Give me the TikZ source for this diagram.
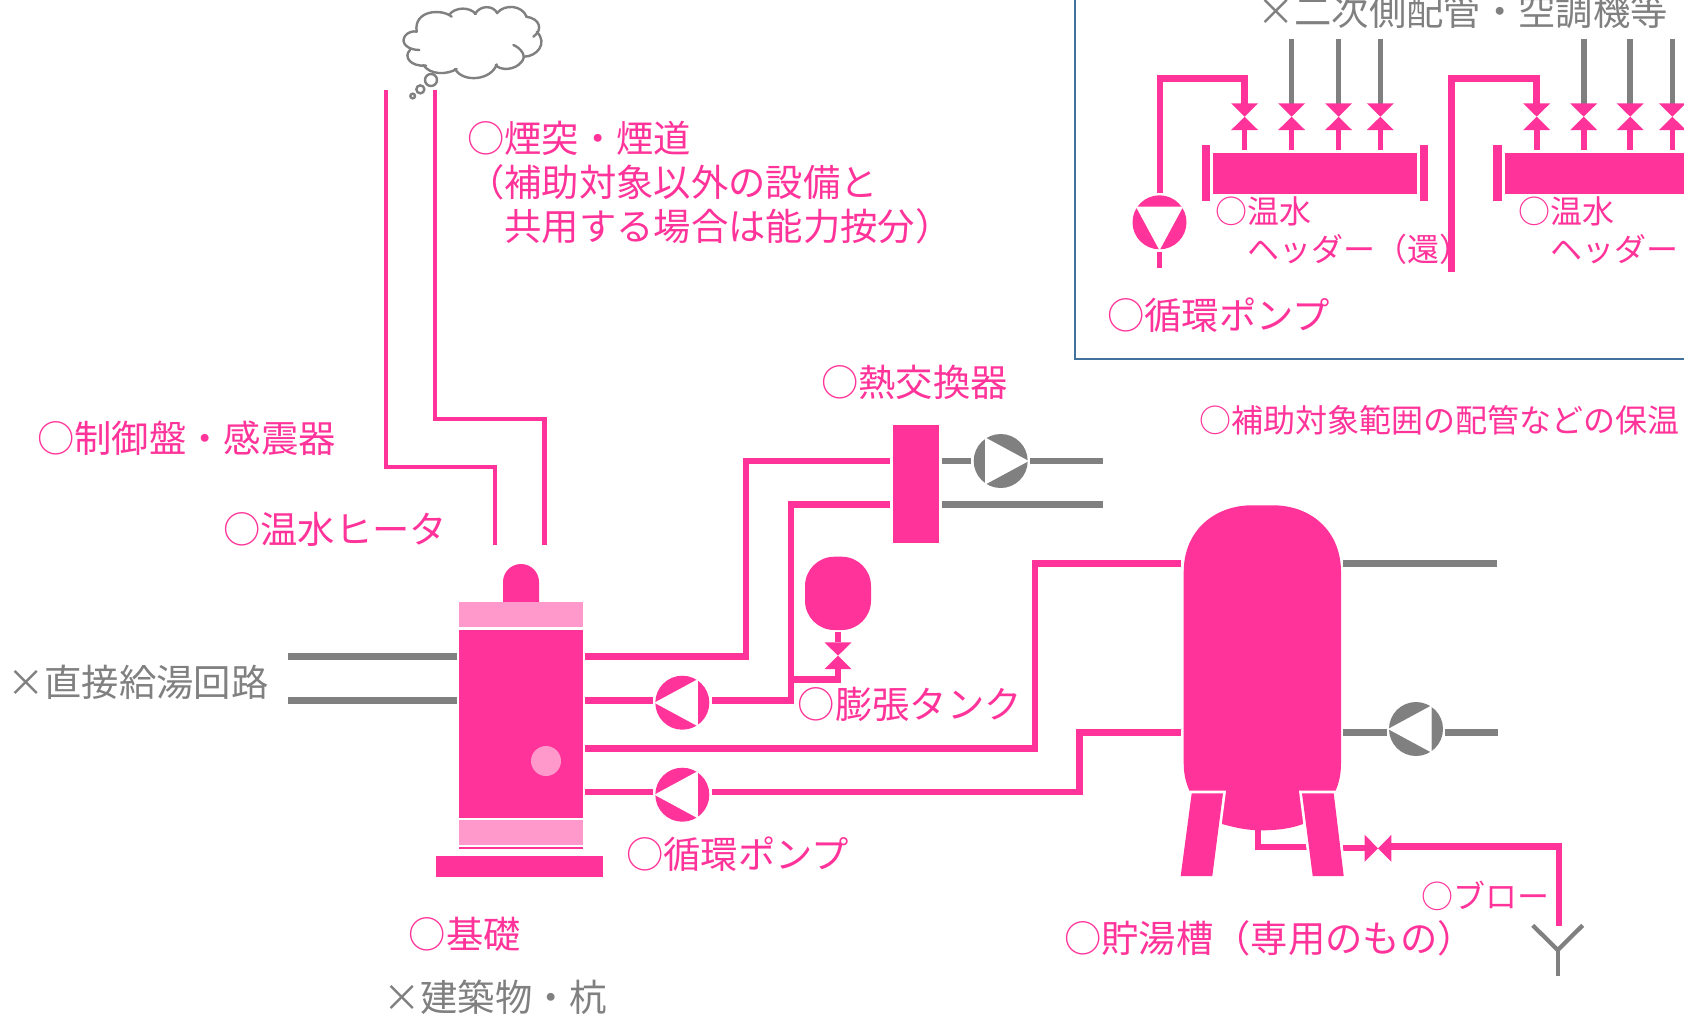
\documentclass[tikz,border=0pt]{standalone}
\usepackage{fontspec}
\setmainfont{Noto Sans CJK JP}

\definecolor{pipepink}{RGB}{255,51,153}
\definecolor{lightpink}{RGB}{255,153,204}
\definecolor{pipegray}{RGB}{128,128,128}
\definecolor{frameblue}{RGB}{65,113,156}

\tikzset{
  pinkpipe/.style={draw=pipepink,line width=4.9pt},
  graypipe/.style={draw=pipegray,line width=4.9pt},
  graythin/.style={draw=pipegray,line width=4.2pt},
  graydrain/.style={draw=pipegray,line width=3.2pt},
  flue/.style={draw=pipepink,line width=3.2pt},
  stem/.style={draw=pipepink,line width=4.2pt},
  cloudline/.style={draw=pipegray,line width=1.8pt,line cap=round},
  biglabel/.style={anchor=west,inner sep=0pt,text=pipepink,font=\fontsize{28}{33}\selectfont},
  smalllabel/.style={anchor=west,inner sep=0pt,text=pipepink,font=\fontsize{24}{29}\selectfont},
  graylabel/.style={anchor=west,inner sep=0pt,text=pipegray,font=\fontsize{28}{33}\selectfont},
  pump/.pic={
    \fill[pic actions] (0,0) circle (27);
    \filldraw[white,line width=1pt] (26.6,0) -- (-15,-22.5) -- (-15,22.5) -- cycle;
  },
  valve/.pic={
    \fill[pipepink] (-13.5,-13.4) -- (13.5,-13.4) -- (0,0) -- cycle;
    \fill[pipepink] (-13.5,13.4) -- (13.5,13.4) -- (0,0) -- cycle;
  },
}

\begin{document}
\begin{tikzpicture}[x=0.75pt,y=0.75pt,yscale=-1,xscale=1]
\useasboundingbox (0,0) rectangle (1684,1015);

%Frame of the inset
\draw [frameblue,line width=1.5pt] (1075,-5) -- (1075,359) -- (1690,359) ;

%Cloud
\begin{scope}[shift={(380,0)},x=0.25pt,y=0.25pt]
\draw [cloudline] (110,95) .. controls (100,30) and (185,25) .. (215,50) ;
\draw [cloudline] (207,45) .. controls (225,20) and (270,20) .. (287,42) ;
\draw [cloudline] (285,42) .. controls (300,15) and (340,15) .. (352,40) ;
\draw [cloudline] (352,38) .. controls (375,12) and (425,15) .. (440,50) ;
\draw [cloudline] (438,50) .. controls (480,55) and (490,90) .. (460,110) ;
\draw [cloudline] (470,95) .. controls (505,130) and (470,170) .. (432,170) ;
\draw [cloudline] (400,135) .. controls (425,145) and (440,170) .. (425,185) .. controls (405,212) and (360,212) .. (347,195) ;
\draw [cloudline] (350,193) .. controls (335,240) and (250,250) .. (225,207) ;
\draw [cloudline] (230,207) .. controls (200,225) and (150,225) .. (130,195) ;
\draw [cloudline] (138,197) .. controls (90,200) and (70,170) .. (90,150) ;
\draw [cloudline] (118,150) .. controls (85,150) and (60,130) .. (75,108) .. controls (82,97) and (100,92) .. (110,95) ;
\draw [cloudline] (153,240) circle (18) ;
\draw [cloudline] (121,268) circle (12) ;
\draw [cloudline] (98,288) circle (7) ;
\end{scope}

%Flues
\draw [flue] (386,90) -- (386,467) -- (495,467) -- (495,544.5) ;
\draw [flue] (435.3,90) -- (435.3,419) -- (544.5,419) -- (544.5,544.5) ;

%Heater
\fill [pipepink] (503,602) -- (503,582) arc [start angle=180,end angle=360,radius=18] -- (539,602) -- cycle ;
\fill [lightpink] (459.3,602.3) rectangle (583,627) ;
\fill [pipepink] (459.3,630) rectangle (583,817.7) ;
\fill [lightpink] (459.3,820) rectangle (583,845) ;
\draw [pipepink,line width=1pt] (459.3,848) -- (583,848) ;
\fill [pipepink] (435.7,855.7) rectangle (602.7,876.7) ;
\fill [lightpink] (546,761) circle (15) ;

%Straight Lines: left of the heater
\draw [graypipe] (288,656.3) -- (456.7,656.3) ;
\draw [graypipe] (288,700.3) -- (456.7,700.3) ;

%Straight Lines: heater to exchanger and tank
\draw [pinkpipe] (585.3,656.3) -- (746,656.3) -- (746,461) -- (890,461) ;
\draw [pinkpipe] (890,504.3) -- (791,504.3) -- (791,700.3) -- (712,700.3) ;
\draw [pinkpipe] (653.3,700.3) -- (585.3,700.3) ;
\draw [pinkpipe] (585.3,748.3) -- (1035,748.3) -- (1035,563.7) -- (1181,563.7) ;
\draw [pinkpipe] (585.3,792) -- (653.3,792) ;
\draw [pinkpipe] (712,792) -- (1079.5,792) -- (1079.5,732.7) -- (1181,732.7) ;
\draw [pinkpipe] (791,679.3) -- (838,679.3) -- (838,668.7) ;
\draw [stem] (838,631.7) -- (838,642.3) ;

%Pumps
\pic [fill=pipepink,rotate=180] at (682.3,702.7) {pump};
\pic [fill=pipepink,rotate=180] at (682.3,794.7) {pump};
\pic [fill=pipegray] at (1000.7,461) {pump};
\pic [fill=pipegray,rotate=180] at (1416,729) {pump};
\pic [fill=pipepink,rotate=-90] at (1159.5,222.3) {pump};

%Exchanger
\fill [pipepink] (892.7,425) rectangle (939.3,542.7) ;
\draw [graypipe] (942,461) -- (971,461) ;
\draw [graypipe] (1030,461) -- (1103,461) ;
\draw [graypipe] (942,504.3) -- (1103,504.3) ;

%Expansion tank
\fill [pipepink,rounded corners=22pt] (805,556.7) rectangle (871,630) ;
\pic at (838,655.7) {valve};

%Tank
\fill [pipepink] (1183.7,572) .. controls (1183.7,530) and (1215,505.3) .. (1252,505.3) -- (1273,505.3) .. controls (1310,505.3) and (1341,530) .. (1341,572) -- (1341,763) .. controls (1341,775) and (1339,783) .. (1335,792) -- (1303,824) .. controls (1290,829) and (1275,830.3) .. (1262,830.3) .. controls (1250,830.3) and (1240,829) .. (1222,824) -- (1190,792) .. controls (1186,783) and (1183.7,775) .. (1183.7,763) -- cycle ;
\draw [graypipe] (1343,563.7) -- (1497,563.7) ;
\draw [graypipe] (1343.3,732.7) -- (1387,732.7) ;
\draw [graypipe] (1445,732.7) -- (1497.7,732.7) ;

%Blow pipe
\draw [stem] (1258,829) -- (1258,846.7) -- (1306.7,846.7) ;
\draw [stem] (1343,848) -- (1366,848) ;
\draw [pinkpipe] (1390,846.7) -- (1559,846.7) -- (1559,925.7) ;
\pic [rotate=90] at (1378,848.3) {valve};
\draw [graydrain] (1532.7,925.3) -- (1557.7,950) -- (1582.7,925.3) ;
\draw [graydrain] (1557.7,950) -- (1557.7,975.7) ;

%Legs
\draw [white,line width=4pt] (1191.7,793.3) -- (1223,793.3) -- (1212.3,876) -- (1180.7,876) -- cycle ;
\draw [white,line width=4pt] (1302,793.3) -- (1333.7,793.3) -- (1343.7,876) -- (1312.7,876) -- cycle ;
\fill [pipepink] (1191.7,793.3) -- (1223,793.3) -- (1212.3,876) -- (1180.7,876) -- cycle ;
\fill [pipepink] (1302,793.3) -- (1333.7,793.3) -- (1343.7,876) -- (1312.7,876) -- cycle ;

%Inset: gray risers and valves
\foreach \px in {1291.6,1338.6,1380.3,1583.7,1630.2,1672.4} {
  \draw [graythin] (\px,39.3) -- (\px,104) ;
}
\foreach \px in {1244.6,1291.6,1338.6,1380.3,1536.7,1583.7,1630.2,1672.4} {
  \pic at (\px,116.7) {valve};
  \draw [stem] (\px,130) -- (\px,150) ;
}

%Inset: pipes
\draw [pinkpipe] (1159.9,192.7) -- (1159.9,78.7) -- (1244.6,78.7) -- (1244.6,104) ;
\draw [pinkpipe] (1451.6,272.3) -- (1451.6,78.7) -- (1536.7,78.7) -- (1536.7,104) ;
\draw [stem] (1159.5,251.7) -- (1159.5,267.7) ;

%Inset: headers
\fill [pipepink] (1201.7,145.3) rectangle (1210.4,201) ;
\fill [pipepink] (1212.8,152.7) rectangle (1417,193.7) ;
\fill [pipepink] (1419.7,145.3) rectangle (1428.1,201) ;
\fill [pipepink] (1493.3,145.3) rectangle (1502.1,201) ;
\fill [pipepink] (1504.5,152.7) rectangle (1690,193.7) ;

% Text Node
\node [biglabel] (control) at (37,438) {○制御盤・感震器};
\node [biglabel] (heater) at (223,529.5) {○温水ヒータ};
\node [graylabel] (supply) at (7,682) {×直接給湯回路};
\node [biglabel,align=left,anchor=north west] (chimney) at (467,121) {○煙突・煙道\\（補助対象以外の設備と\\　共用する場合は能力按分）};
\node [biglabel] (exchanger) at (821,382) {○熱交換器};
\node [smalllabel] (insulation) at (1199,420) {○補助対象範囲の配管などの保温};
\node [biglabel] (expansion) at (797.5,704.5) {○膨張タンク};
\node [biglabel] (pumpmain) at (626,854) {○循環ポンプ};
\node [biglabel] (base) at (408.5,934) {○基礎};
\node [graylabel] (building) at (383,997.7) {×建築物・杭};
\node [biglabel] (storage) at (1064,938.6) {○貯湯槽（専用のもの）};
\node [smalllabel] (blow) at (1421,896) {○ブロー};
\node [graylabel] (secondary) at (1257,11) {×二次側配管・空調機等};
\node [smalllabel,align=left,anchor=north west] (headerreturn) at (1215,196) {○温水\\　ヘッダー（還）};
\node [smalllabel,align=left,anchor=north west] (headersupply) at (1518,196) {○温水\\　ヘッダー};
\node [biglabel] (pumpinset) at (1107,315) {○循環ポンプ};

\end{tikzpicture}
\end{document}
